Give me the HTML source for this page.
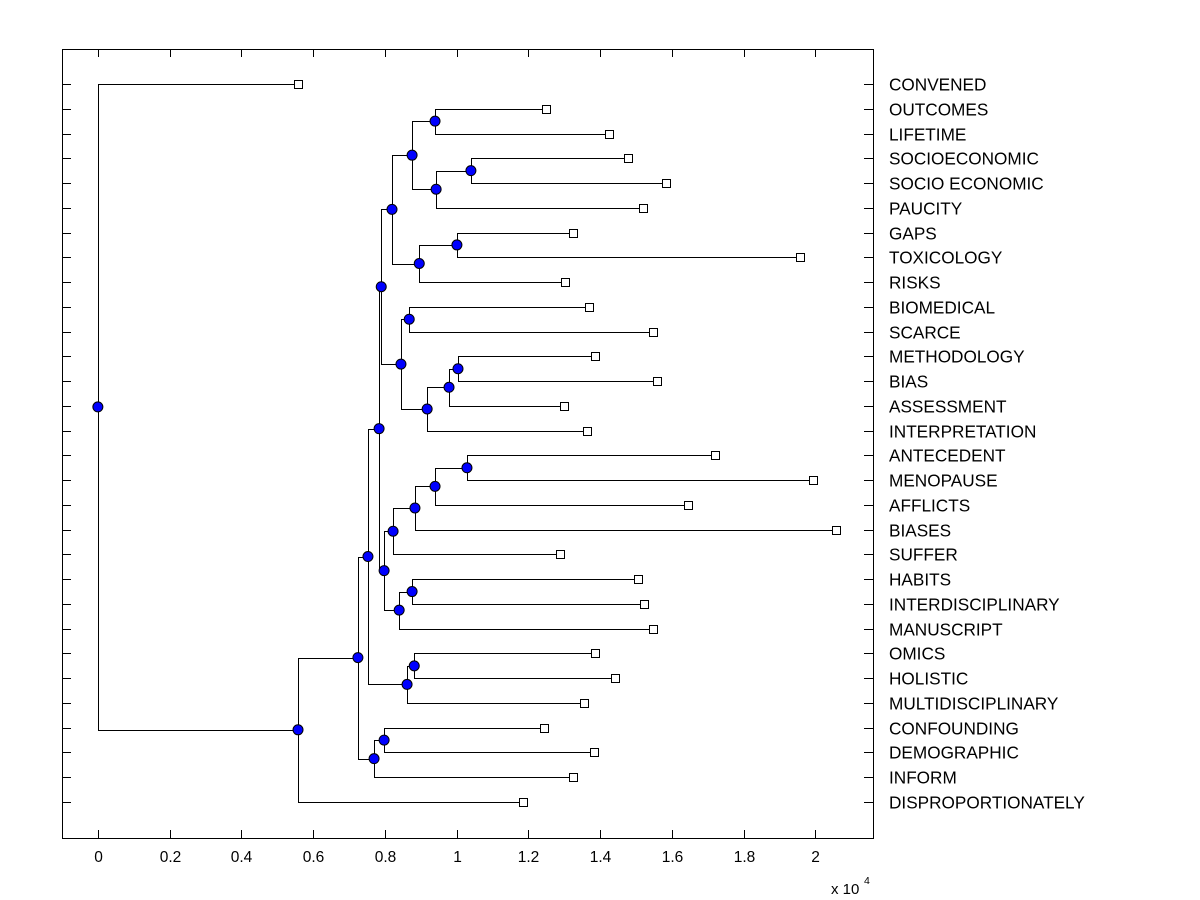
<!DOCTYPE html>
<html><head><meta charset="utf-8"><style>
html,body{margin:0;padding:0;background:#fff;}
svg{display:block;font-family:"Liberation Sans",Arial,sans-serif;}
</style></head><body>
<svg id="chart" width="1200" height="900" viewBox="0 0 1200 900"></svg>
<script>
const leaves=["CONVENED","OUTCOMES","LIFETIME","SOCIOECONOMIC","SOCIO ECONOMIC","PAUCITY","GAPS","TOXICOLOGY","RISKS","BIOMEDICAL","SCARCE","METHODOLOGY","BIAS","ASSESSMENT","INTERPRETATION","ANTECEDENT","MENOPAUSE","AFFLICTS","BIASES","SUFFER","HABITS","INTERDISCIPLINARY","MANUSCRIPT","OMICS","HOLISTIC","MULTIDISCIPLINARY","CONFOUNDING","DEMOGRAPHIC","INFORM","DISPROPORTIONATELY"];
const leafValues=[0.558,1.250,1.425,1.478,1.584,1.520,1.325,1.958,1.303,1.370,1.548,1.386,1.559,1.300,1.364,1.721,1.994,1.646,2.059,1.289,1.506,1.523,1.548,1.386,1.442,1.356,1.244,1.384,1.325,1.186];
// merges: [childA, childB, height]; leaf refs "L<i>", node refs "N<name>"
const mergeNames=["P","O","N","K","M","L","J","AB","AA","Z","Y","R","W","V","U","S","X","T","Q","I","F","H","G","C","E","D","B","A","ROOT"];
const mergeLeft =["L15","NP","NO","NN","L20","NM","NK","L11","NAB","NAA","L9","NY","L3","NW","L1","NU","L6","NX","NS","NQ","NI","L23","NH","NF","L26","NE","NC","NB","L0"];
const mergeRight=["L16","L17","L18","L19","L21","L22","NL","L12","L13","L14","L10","NZ","L4","L5","L2","NV","L7","L8","NT","NR","NJ","L24","L25","NG","L27","L28","ND","L29","NA"];
const mergeHeights=[1.029,0.940,0.884,0.823,0.876,0.840,0.798,1.004,0.979,0.918,0.868,0.845,1.040,0.943,0.940,0.876,1.001,0.896,0.820,0.790,0.784,0.882,0.862,0.753,0.798,0.770,0.725,0.558,0.0];
const xTicks=[0,0.2,0.4,0.6,0.8,1,1.2,1.4,1.6,1.8,2];

const svg=document.getElementById('chart');
const NS='http://www.w3.org/2000/svg';
const L=62,R=873,T=49,B=838,xmin=-0.1,xmax=2.161;
const xs=v=>L+(v-xmin)/(xmax-xmin)*(R-L);
const ys=i=>84+i*(802-84)/29;
function mk(tag,attrs,parent){const e=document.createElementNS(NS,tag);for(const k in attrs)e.setAttribute(k,attrs[k]);(parent||svg).appendChild(e);return e;}

const frame=mk('rect',{x:L+0.5,y:T+0.5,width:R-L,height:B-T,fill:'none',stroke:'#000','stroke-width':1});



const xAxis=mk('g',{});


xTicks.forEach(v=>{
  const x=Math.round(xs(v))+0.5;
  mk('line',{x1:x,y1:B,x2:x,y2:B-8,stroke:'#000'},xAxis);
  mk('line',{x1:x,y1:T,x2:x,y2:T+8,stroke:'#000'},xAxis);
  const t=mk('text',{x:x,y:862,'font-size':15.5,'text-anchor':'middle',fill:'#000'},xAxis);
  t.textContent=String(v);
  
  
});
const ex=mk('text',{x:831,y:894,'font-size':15,fill:'#000'});
ex.textContent='x 10';


const ex2=mk('text',{x:864,y:884,'font-size':10.5,fill:'#000'},ex.parentNode);
ex2.textContent='4';



const yAxis=mk('g',{});


leaves.forEach((n,i)=>{
  const y=Math.round(ys(i))+0.5;
  mk('line',{x1:L,y1:y,x2:L+9,y2:y,stroke:'#000'},yAxis);
  mk('line',{x1:R,y1:y,x2:R-9,y2:y,stroke:'#000'},yAxis);
  const t=mk('text',{x:889,y:y+6,'font-size':17.2,fill:'#000'},yAxis);
  t.textContent=n;
  
  
});

const pos={};
leaves.forEach((n,i)=>{pos['L'+i]={x:xs(leafValues[i]),y:ys(i)};});
const links=mk('g',{});


const dots=[];
mergeNames.forEach((nm,k)=>{
  const a=pos[mergeLeft[k]],b=pos[mergeRight[k]];
  const x=xs(mergeHeights[k]),y=(a.y+b.y)/2;
  pos['N'+nm]={x:x,y:y};
  const ax=Math.round(x)+0.5;
  mk('path',{d:`M${a.x},${Math.round(a.y)+0.5}H${ax}V${Math.round(b.y)+0.5}H${b.x}`,fill:'none',stroke:'#000','stroke-width':1},links);
  dots.push({x:x,y:y});
});
leaves.forEach((n,i)=>{
  const p=pos['L'+i];
  const r=mk('rect',{x:Math.round(p.x)-4+0.5,y:Math.round(p.y)-4+0.5,width:8,height:8,fill:'#fff',stroke:'#000'});
  
  
});
dots.forEach(d=>{
  const c=mk('circle',{cx:d.x,cy:d.y,r:5,fill:'#0000ff',stroke:'#000','stroke-width':1});
  
  
});
</script>
</body></html>
